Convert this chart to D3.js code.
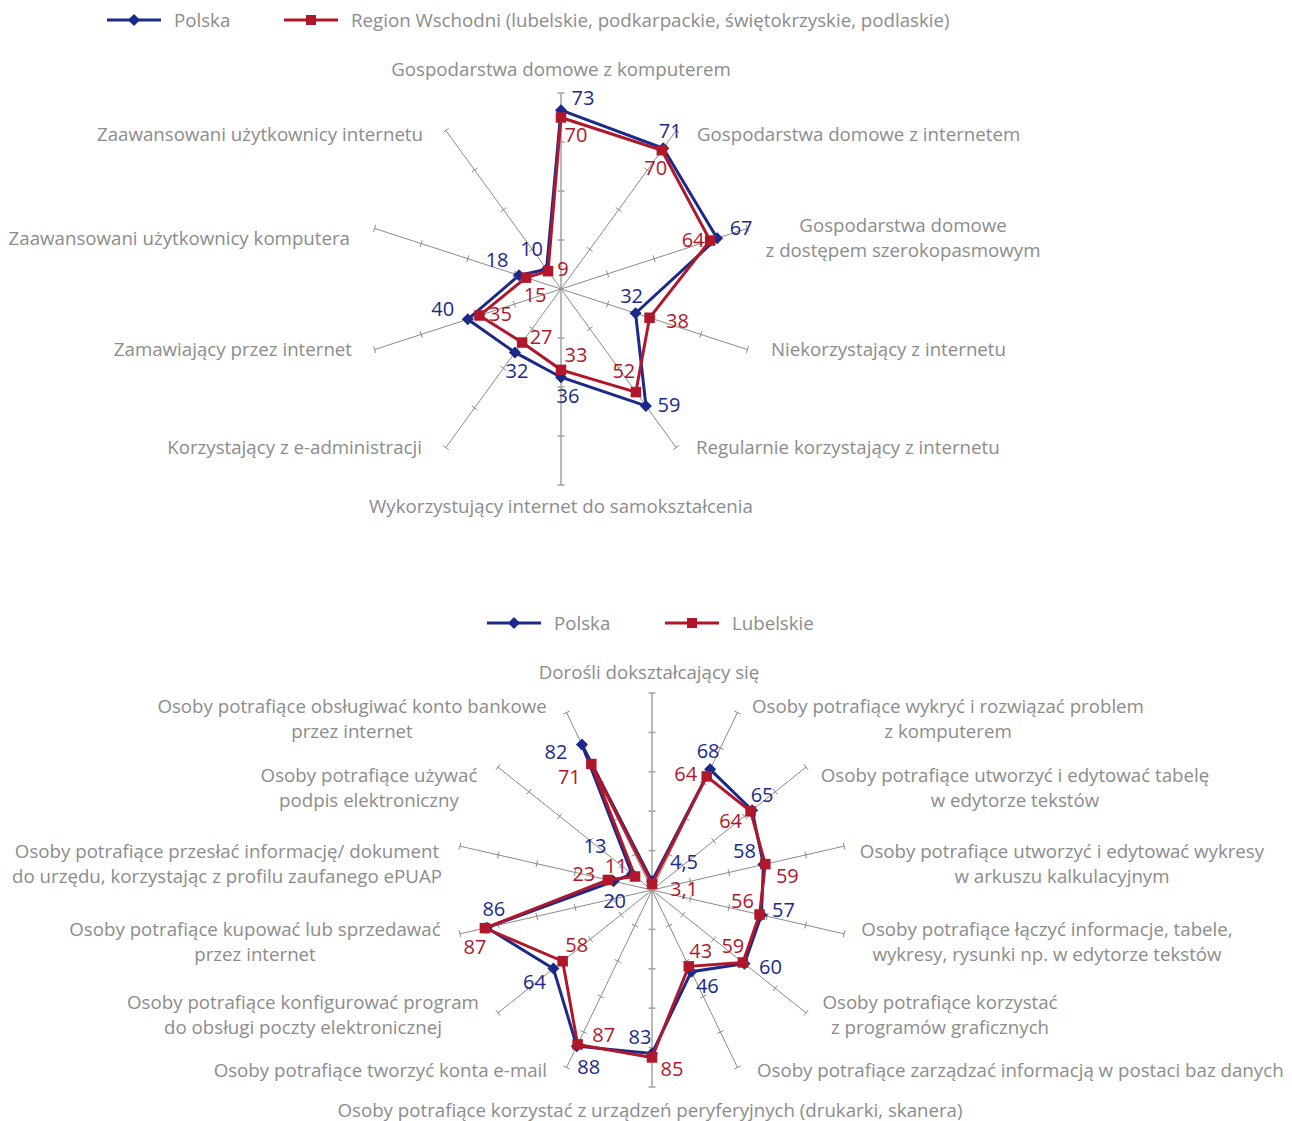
<!DOCTYPE html>
<html>
<head>
<meta charset="utf-8">
<script src="https://cdn.jsdelivr.net/npm/d3@7"></script>
<style>
  body { margin: 0; background: #fff; }
  svg text { font-family: "Open Sans", sans-serif; }
</style>
</head>
<body>
<div id="chart"></div>
<script>
/* ============================================================
   DATA
============================================================ */

const AXES_1 = [
    "Gospodarstwa domowe z komputerem",
    "Gospodarstwa domowe z internetem",
    "Gospodarstwa domowe\nz dostępem szerokopasmowym",
    "Niekorzystający z internetu",
    "Regularnie korzystający z internetu",
    "Wykorzystujący internet do samokształcenia",
    "Korzystający z e-administracji",
    "Zamawiający przez internet",
    "Zaawansowani użytkownicy komputera",
    "Zaawansowani użytkownicy internetu"
];
const POLSKA_1 = [73, 71, 67, 32, 59, 36, 32, 40, 18, 10];
const REGION_1 = [70, 70, 64, 38, 52, 33, 27, 35, 15, 9];
const SERIES_1 = ["Polska", "Region Wschodni (lubelskie, podkarpackie, świętokrzyskie, podlaskie)"];

const AXES_2 = [
    "Dorośli dokształcający się",
    "Osoby potrafiące wykryć i rozwiązać problem\nz komputerem",
    "Osoby potrafiące utworzyć i edytować tabelę\nw edytorze tekstów",
    "Osoby potrafiące utworzyć i edytować wykresy\nw arkuszu kalkulacyjnym",
    "Osoby potrafiące łączyć informacje, tabele,\nwykresy, rysunki np. w edytorze tekstów",
    "Osoby potrafiące korzystać\nz programów graficznych",
    "Osoby potrafiące zarządzać informacją w postaci baz danych",
    "Osoby potrafiące korzystać z urządzeń peryferyjnych (drukarki, skanera)",
    "Osoby potrafiące tworzyć konta e-mail",
    "Osoby potrafiące konfigurować program\ndo obsługi poczty elektronicznej",
    "Osoby potrafiące kupować lub sprzedawać\nprzez internet",
    "Osoby potrafiące przesłać informację/ dokument\ndo urzędu, korzystając z profilu zaufanego ePUAP",
    "Osoby potrafiące używać\npodpis elektroniczny",
    "Osoby potrafiące obsługiwać konto bankowe\nprzez internet"
];
const POLSKA_2 = [4.5, 68, 65, 58, 57, 60, 46, 83, 88, 64, 86, 20, 13, 82];
const LUBELSKIE_2 = [3.1, 64, 64, 59, 56, 59, 43, 85, 87, 58, 87, 23, 11, 71];
const SERIES_2 = ["Polska", "Lubelskie"];

/* ============================================================
   LAYOUT (label placement, px relative to chart centre / point)
============================================================ */

const CAT_POS_1 = [
    [0, -220, "middle"], [136, -155, "start"], [342, -64, "middle"],
    [210, 60, "start"], [135, 158, "start"], [0, 217, "middle"],
    [-139, 158, "end"], [-209, 60, "end"], [-211, -51, "end"],
    [-138, -155, "end"]
];
const VAL_OFF_1 = [
    [[22, -12], [7, -17], [24, -10], [-4, -17], [23, -1], [7, 19], [2, 19], [-25, -10], [-22, -15], [-15, -20]],
    [[15, 17], [-6, 18], [-17, -1], [28, 3], [-12, -21], [15, -15], [19, -6], [21, -1], [9, 17], [15, -2]]
];

const CAT_POS_2 = [
    [-3, -218, "middle"], [296, -184, "middle"], [363, -115, "middle"],
    [410, -39, "middle"], [395, 39, "middle"], [288, 112, "middle"],
    [105, 180, "start"], [-2, 220, "middle"], [-105, 180, "end"],
    [-349, 112, "middle"], [-397, 39, "middle"], [-425, -39, "middle"],
    [-283, -115, "middle"], [-300, -184, "middle"]
];
const VAL_OFF_2 = [
    [[32, -19], [-2, -18], [10, -15], [-19, -14], [22, -5], [26, 3], [16, 14],
     [-12, -17], [12, 21], [-19, 13], [7, -19], [1, 20], [-37, -28], [-26, 8]],
    [[32, 5], [-21, -2], [-20, 10], [22, 12], [-17, -14], [-10, -16], [12, -15],
     [20, 12], [26, -9], [14, -16], [-10, 19], [-24, -6], [-19, -11], [-22, 13]]
];

const BLUE = "#1b2a8a";
const RED = "#b0172b";
const TEXT_GREY = "#8c8c8c";
const CAT_FONT = "18.7px";

const svg = d3.select("#chart")
    .append("svg")
    .attr("width", 1292)
    .attr("height", 1121);

/* ============================================================
   LEGEND
============================================================ */

function drawLegend(items, y) {
    const lg = svg.append("g");
    items.forEach(it => {
        lg.append("line")
            .attr("x1", it.x).attr("x2", it.x + 54)
            .attr("y1", y).attr("y2", y)
            .attr("stroke", it.color)
            .attr("stroke-width", 3);
        lg.append("path")
            .attr("d", d3.symbol(d3.symbolSquare, it.marker === "diamond" ? 72 : 100)())
            .attr("transform", `translate(${it.x + 27},${y})` + (it.marker === "diamond" ? " rotate(45)" : ""))
            .attr("fill", it.color);
        lg.append("text")
            .attr("x", it.x + 67)
            .attr("y", y)
            .attr("dy", "0.35em")
            .attr("font-size", CAT_FONT)
            .attr("fill", TEXT_GREY)
            .text(it.name);
    });
}

/* ============================================================
   RADAR
============================================================ */

function drawRadar({ cx, cy, R, max, step, axes, series, catPos, valOff }) {
    const n = axes.length;
    const g = svg.append("g").attr("transform", `translate(${cx},${cy})`);

    const rScale = d3.scaleLinear().domain([0, max]).range([0, R]);
    const angle = d3.scaleLinear().domain([0, n]).range([0, 2 * Math.PI]);
    const ticks = d3.range(step, max + step / 2, step);

    const pt = (i, v) => [
        rScale(v) * Math.sin(angle(i)),
        -rScale(v) * Math.cos(angle(i))
    ];

    // spokes
    axes.forEach((a, i) => {
        const vertical = Math.abs(Math.sin(angle(i))) < 1e-6;
        const [x2, y2] = pt(i, max);
        const col = vertical ? "#a8a8a8" : "#8a8a8a";
        g.append("line")
            .attr("x1", 0).attr("y1", 0)
            .attr("x2", x2).attr("y2", y2)
            .attr("stroke", col)
            .attr("stroke-width", vertical ? 1.6 : 1);

        // tick marks, perpendicular to the spoke
        const ux = Math.cos(angle(i)), uy = Math.sin(angle(i));
        ticks.forEach(t => {
            const [tx, ty] = pt(i, t);
            g.append("line")
                .attr("x1", tx - ux * 3.5).attr("y1", ty - uy * 3.5)
                .attr("x2", tx + ux * 3.5).attr("y2", ty + uy * 3.5)
                .attr("stroke", col)
                .attr("stroke-width", vertical ? 1.6 : 1);
        });
    });

    // category labels
    axes.forEach((a, i) => {
        const [dx, dy, anchor] = catPos[i];
        const lines = a.split("\n");
        const t = g.append("text")
            .attr("x", dx)
            .attr("y", dy)
            .attr("text-anchor", anchor)
            .attr("font-size", CAT_FONT)
            .attr("fill", TEXT_GREY);
        lines.forEach((ln, k) => {
            t.append("tspan")
                .attr("x", dx)
                .attr("y", dy + k * 25.5)
                .attr("dy", "0.35em")
                .text(ln);
        });
    });

    const line = d3.lineRadial()
        .angle((d, i) => angle(i))
        .radius(d => rScale(d))
        .curve(d3.curveLinearClosed);

    series.forEach((s, si) => {
        g.append("path")
            .datum(s.values)
            .attr("d", line)
            .attr("fill", "none")
            .attr("stroke", s.color)
            .attr("stroke-width", 3)
            .attr("stroke-linejoin", "miter");

        g.selectAll(null)
            .data(s.values)
            .join("path")
            .attr("d", d3.symbol(d3.symbolSquare, s.marker === "diamond" ? 72 : 110)())
            .attr("transform", (d, i) => {
                const [x, y] = pt(i, d);
                return `translate(${x},${y})` + (s.marker === "diamond" ? " rotate(45)" : "");
            })
            .attr("fill", s.color);
    });

    // value labels on top
    series.forEach((s, si) => {
        g.selectAll(null)
            .data(s.values)
            .join("text")
            .attr("x", (d, i) => pt(i, d)[0] + valOff[si][i][0])
            .attr("y", (d, i) => pt(i, d)[1] + valOff[si][i][1])
            .attr("dy", "0.35em")
            .attr("text-anchor", "middle")
            .attr("font-size", "20px")
            .attr("fill", s.color)
            .text(d => String(d).replace(".", ","));
    });
}

drawLegend([
    { x: 107, name: SERIES_1[0], color: BLUE, marker: "diamond" },
    { x: 284, name: SERIES_1[1], color: RED, marker: "square" }
], 20);

drawRadar({
    cx: 561, cy: 289, R: 196, max: 80, step: 20,
    axes: AXES_1,
    series: [
        { values: POLSKA_1, color: BLUE, marker: "diamond" },
        { values: REGION_1, color: RED, marker: "square" }
    ],
    catPos: CAT_POS_1,
    valOff: VAL_OFF_1
});

drawLegend([
    { x: 487, name: SERIES_2[0], color: BLUE, marker: "diamond" },
    { x: 665, name: SERIES_2[1], color: RED, marker: "square" }
], 623);

drawRadar({
    cx: 652, cy: 890, R: 197, max: 100, step: 20,
    axes: AXES_2,
    series: [
        { values: POLSKA_2, color: BLUE, marker: "diamond" },
        { values: LUBELSKIE_2, color: RED, marker: "square" }
    ],
    catPos: CAT_POS_2,
    valOff: VAL_OFF_2
});
</script>
</body>
</html>
